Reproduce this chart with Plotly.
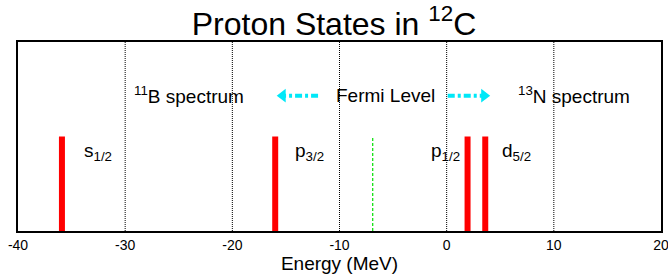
import plotly.graph_objects as go

# Data
state_labels = ["s<sub>1/2</sub>", "p<sub>3/2</sub>", "p<sub>1/2</sub>", "d<sub>5/2</sub>"]
state_energies = [-35.9, -16.0, 1.95, 3.6]
fermi_level = -6.9
level_height = 0.5
x_ticks = [-40, -30, -20, -10, 0, 10, 20]
grid_positions = [-30, -20, -10, 0, 10]
top_texts = ["<sup>11</sup>B spectrum", "Fermi Level", "<sup>13</sup>N spectrum"]
top_x = [-24.05, -5.75, 11.9]
left_arrow = [-12.0, -15.3]
right_arrow = [0.1, 3.5]

FONT = "Liberation Sans, Arial, sans-serif"
CYAN = "#00e8f8"

fig = go.Figure()

# grid lines (dotted)
gx, gy = [], []
for g in grid_positions:
    gx += [g, g, None]
    gy += [0, 1, None]
fig.add_trace(go.Scatter(x=gx, y=gy, mode="lines",
                         line=dict(color="black", width=1, dash="1px,1px"),
                         hoverinfo="skip", showlegend=False))

# red state bars
bx, by = [], []
for e in state_energies:
    bx += [e, e, None]
    by += [0, level_height, None]
fig.add_trace(go.Scatter(x=bx, y=by, mode="lines",
                         line=dict(color="#ff0000", width=6),
                         hoverinfo="skip", showlegend=False))

# Fermi level
fig.add_trace(go.Scatter(x=[fermi_level, fermi_level], y=[0, level_height], mode="lines",
                         line=dict(color="#00e000", width=1.2, dash="3px,2px"),
                         hoverinfo="skip", showlegend=False))

# cyan arrows (dash-dot with triangle heads)
arrow_y = 0.716
for xs, sym in [(left_arrow, "triangle-left"), (right_arrow, "triangle-right")]:
    fig.add_trace(go.Scatter(x=xs, y=[arrow_y, arrow_y], mode="lines",
                             line=dict(color=CYAN, width=4, dash="7px,3px,3px,3px"),
                             hoverinfo="skip", showlegend=False))
    fig.add_trace(go.Scatter(x=[xs[1]], y=[arrow_y], mode="markers",
                             marker=dict(symbol=sym, color=CYAN, size=12, line=dict(width=0)),
                             hoverinfo="skip", showlegend=False))

annotations = []
# state labels: (x anchor position, side)
label_pos = [(-33.9, "left"), (-14.2, "left"), (1.3, "right"), (5.1, "left")]
for lab, (x, side) in zip(state_labels, label_pos):
    annotations.append(dict(x=x, y=0.42, xref="x", yref="paper", text=lab,
                            showarrow=False, xanchor=side, yanchor="middle", borderpad=0,
                            font=dict(family=FONT, size=19, color="black")))

for t, x in zip(top_texts, top_x):
    annotations.append(dict(x=x, y=0.719, xref="x", yref="paper",
                            text=t, showarrow=False, xanchor="center", yanchor="middle",
                            borderpad=0,
                            font=dict(family=FONT, size=19, color="black")))

fig.update_layout(
    width=668, height=278,
    margin=dict(l=18, r=7, t=42, b=47, pad=0, autoexpand=False),
    paper_bgcolor="white", plot_bgcolor="white",
    title=dict(text="Proton States in <sup>12</sup>C", x=0.5, xanchor="center",
               xref="container", yref="container",
               y=0.915, yanchor="middle",
               font=dict(family=FONT, size=32, color="black")),
    xaxis=dict(range=[-40, 20], tickvals=x_ticks, ticktext=[str(v) for v in x_ticks],
               showgrid=False, zeroline=False, showline=True, linecolor="black",
               linewidth=2, mirror=True, ticks="", automargin=False,
               ticklabeloverflow="allow",
               tickfont=dict(family=FONT, size=14, color="black"),
               title=dict(text="Energy (MeV)", font=dict(family=FONT, size=19, color="black"),
                          standoff=2)),
    yaxis=dict(range=[0, 1], showticklabels=False, showgrid=False, zeroline=False,
               showline=True, linecolor="black", linewidth=2, mirror=True, ticks="",
               automargin=False),
    annotations=annotations,
    showlegend=False,
)

fig.write_html("out.html", config={"displayModeBar": False},
               post_script="document.body.style.margin='0px';document.body.style.padding='0px';")
